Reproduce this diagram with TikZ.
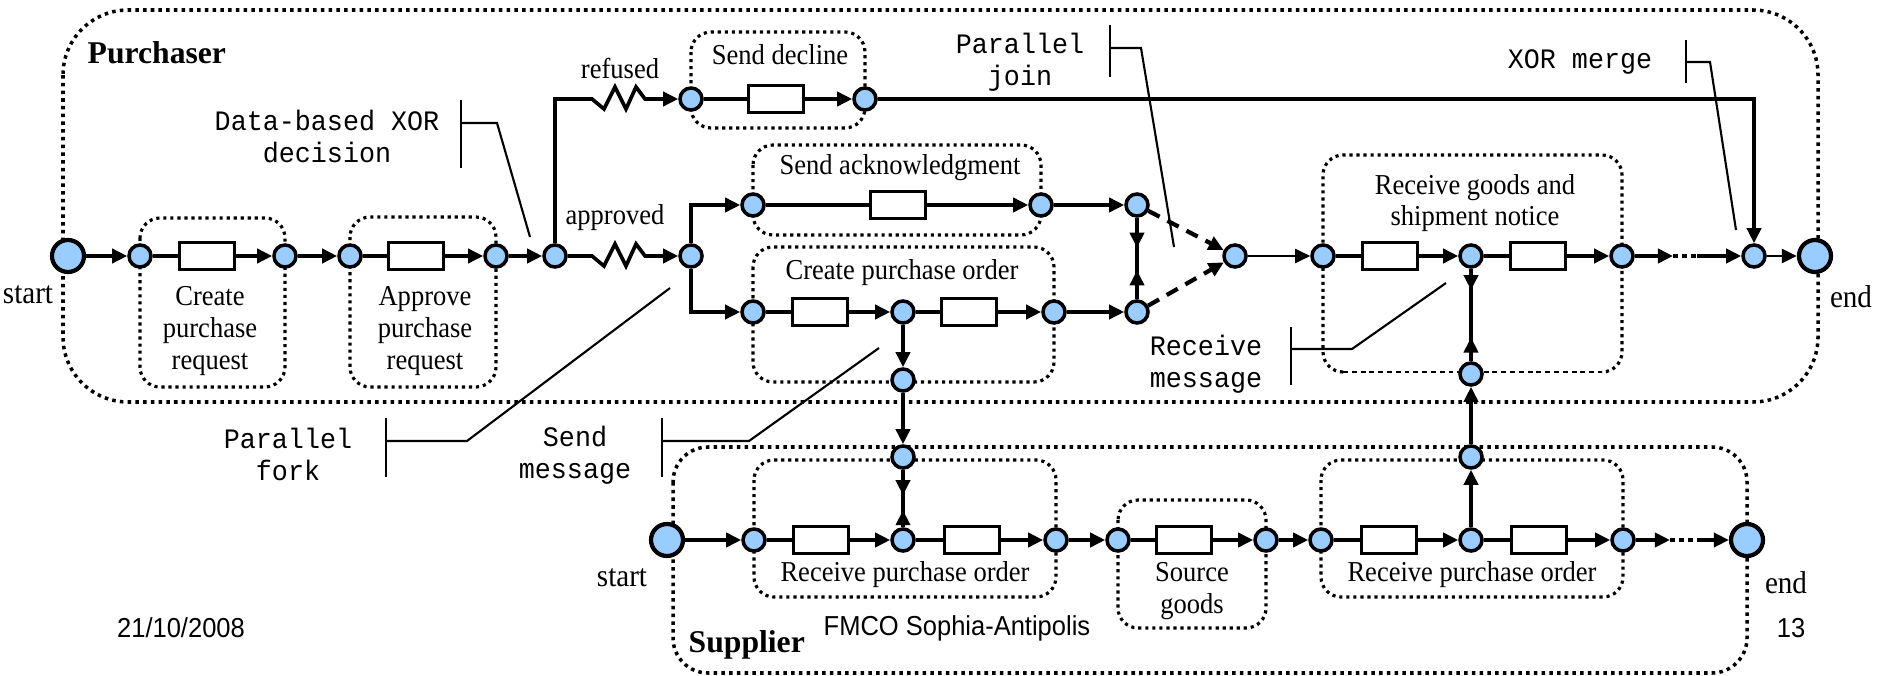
\documentclass[tikz,border=0pt]{standalone}
\usepackage{fontspec}
\setmainfont{Liberation Serif}[FakeStretch=0.92]
\newfontfamily\plainserif{Liberation Serif}
\newfontfamily\monof{Liberation Mono}[FakeStretch=0.95]
\newfontfamily\sansf{Liberation Sans}[FakeStretch=0.93]
\usetikzlibrary{arrows.meta,calc}
\definecolor{nodeblue}{RGB}{153,204,255}
\tikzset{
  flow/.style={line width=1.05pt},
  arr/.style={flow,-{Triangle[length=4.3pt,width=4pt]}},
  gw/.style={circle,draw,line width=1pt,fill=nodeblue,minimum size=0.22cm,inner sep=0pt},
  bigc/.style={circle,draw,line width=1.2pt,fill=nodeblue,minimum size=0.32cm,inner sep=0pt},
  task/.style={draw,line width=1pt,fill=white,minimum width=0.55cm,minimum height=0.27cm,inner sep=0pt},
  pool/.style={line width=1pt,dash pattern=on 1pt off 1.2pt},
  tbox/.style={line width=0.9pt,dash pattern=on 0.9pt off 1.1pt,rounded corners=0.2cm},
  ann/.style={line width=0.6pt},
  dashflow/.style={line width=1.2pt,dash pattern=on 3.6pt off 2.5pt,-{Triangle[length=4.3pt,width=4pt]}},
  lab/.style={font=\fontsize{8.2}{9}\selectfont,align=center,inner sep=0pt},
  biglab/.style={font=\fontsize{9}{10}\selectfont,inner sep=0pt},
  mlab/.style={font=\monof\fontsize{8}{9.1}\selectfont,align=center,inner sep=0pt},
  foot/.style={font=\sansf\fontsize{7.8}{9}\selectfont,inner sep=0pt},
  lanelab/.style={font=\plainserif\bfseries\fontsize{9}{10}\selectfont,inner sep=0pt,anchor=west},
}
\begin{document}
\begin{tikzpicture}[x=0.01cm,y=-0.01cm]
\useasboundingbox (0,0) rectangle (1888,676);
% pools
\draw[pool,rounded corners=0.65cm] (63,10) rectangle (1818,402);
\draw[pool,rounded corners=0.35cm] (673,447) rectangle (1747,673);
% task boxes
\draw[tbox] (140,218) rectangle (285,387);
\draw[tbox] (350,217) rectangle (496,387);
\draw[tbox] (691,32) rectangle (865,128);
\draw[tbox] (753,145) rectangle (1041,235);
\draw[tbox] (753,247) rectangle (1054,382);
\draw[tbox] (1343,372) -- (1323,372) -- (1323,155) -- (1622,155) -- (1622,372) -- (1602,372);
\draw[line width=0.6pt,dash pattern=on 1.4pt off 1.1pt] (1343,372) -- (1602,372);
\draw[tbox] (754,460) rectangle (1056,597);
\draw[tbox] (1118,500) rectangle (1266,628);
\draw[tbox] (1321,460) rectangle (1623,597);
% purchaser nodes
\node[bigc] (s0) at (68,256) {};
\node[gw] (n1) at (140,256) {};
\node[task] (t1) at (207,256) {};
\node[gw] (n2) at (285,256) {};
\node[gw] (n3) at (350,256) {};
\node[task] (t2) at (416,256) {};
\node[gw] (n4) at (496,256) {};
\node[gw] (d) at (555,256) {};
\node[gw] (r1) at (691,99) {};
\node[task] (t3) at (776,99) {};
\node[gw] (r2) at (865,99) {};
\node[gw] (a) at (691,256) {};
\node[gw] (k1) at (753,205) {};
\node[task] (t4) at (898,205) {};
\node[gw] (k2) at (1041,205) {};
\node[gw] (j1) at (1137,205) {};
\node[gw] (o1) at (753,312) {};
\node[task] (t5) at (820,312) {};
\node[gw] (o2) at (903,312) {};
\node[task] (t6) at (969,312) {};
\node[gw] (o3) at (1054,312) {};
\node[gw] (j2) at (1137,312) {};
\node[gw] (g) at (1235,256) {};
\node[gw] (g1) at (1323,256) {};
\node[task] (t7) at (1390,256) {};
\node[gw] (g2) at (1471,256) {};
\node[task] (t8) at (1538,256) {};
\node[gw] (g3) at (1622,256) {};
\node[gw] (m) at (1754,256) {};
\node[bigc] (e0) at (1815,256) {};
\node[gw] (sm) at (903,380) {};
\node[gw] (rm) at (1471,374) {};
% supplier nodes
\node[gw] (st) at (903,457) {};
\node[bigc] (s1) at (667,540) {};
\node[gw] (u1) at (754,540) {};
\node[task] (t9) at (821,540) {};
\node[gw] (u2) at (903,540) {};
\node[task] (t10) at (972,540) {};
\node[gw] (u3) at (1056,540) {};
\node[gw] (v1) at (1118,540) {};
\node[task] (t11) at (1184,540) {};
\node[gw] (v2) at (1266,540) {};
\node[gw] (w1) at (1321,540) {};
\node[task] (t12) at (1389,540) {};
\node[gw] (w2) at (1471,540) {};
\node[task] (t13) at (1539,540) {};
\node[gw] (w3) at (1623,540) {};
\node[gw] (sr) at (1471,457) {};
\node[bigc] (e1) at (1747,540) {};
% helper coordinates
\coordinate (zr) at (592,99);
\coordinate (za) at (592,256);
\coordinate (p1) at (1673,256);
\coordinate (p2) at (1697,256);
\coordinate (q1) at (1670,540);
\coordinate (q2) at (1697,540);
% purchaser flows
\draw[arr] (s0) -- (n1);
\draw[flow] (n1) -- (t1); \draw[arr] (t1) -- (n2);
\draw[arr,line width=1.4pt] (n2) -- (n3);
\draw[flow] (n3) -- (t2); \draw[arr] (t2) -- (n4);
\draw[arr] (n4) -- (d);
\draw[arr] (d) |- (zr) -- ++(12,10) -- ++(11,-22) -- ++(11,22) -- ++(10,-22) -- ++(9,12) -- (r1);
\draw[arr] (d) -- (za) -- ++(12,10) -- ++(11,-22) -- ++(11,22) -- ++(10,-22) -- ++(9,12) -- (a);
\draw[flow] (r1) -- (t3); \draw[arr] (t3) -- (r2);
\draw[arr] (r2) -| (m);
\draw[arr] (a) |- (k1);
\draw[arr] (a) |- (o1);
\draw[flow] (k1) -- (t4); \draw[arr] (t4) -- (k2); \draw[arr] (k2) -- (j1);
\draw[flow] (o1) -- (t5); \draw[arr] (t5) -- (o2);
\draw[flow] (o2) -- (t6); \draw[arr] (t6) -- (o3); \draw[arr] (o3) -- (j2);
\draw[flow] (j1) -- (j2);
\draw[arr] (j1) -- ($(j1)!0.40!(j2)$);
\draw[arr] (j2) -- ($(j2)!0.39!(j1)$);
\draw[dashflow] (j1) -- (g);
\draw[dashflow] (j2) -- (g);
\draw[arr,line width=0.55pt] (g) -- (g1);
\draw[flow] (g1) -- (t7); \draw[arr] (t7) -- (g2);
\draw[flow] (g2) -- (t8); \draw[arr] (t8) -- (g3);
\draw[arr,line width=1.3pt] (g3) -- (p1);
\draw[line width=1.3pt,dash pattern=on 1.3pt off 1.3pt] (p1) -- (p2);
\draw[arr,line width=1.3pt] (p2) -- (m);
\draw[arr,line width=0.8pt] (m) -- (e0);
\draw[flow] (rm) -- (g2);
\draw[arr] (g2) -- ($(g2)!0.29!(rm)$);
\draw[arr] (rm) -- ($(rm)!0.31!(g2)$);
% messages
\draw[arr] (o2) -- (sm);
\draw[arr] (sm) -- (st);
\draw[flow] (st) -- (u2);
\draw[arr] (st) -- ($(st)!0.46!(u2)$);
\draw[arr] (u2) -- ($(u2)!0.36!(st)$);
\draw[arr] (w2) -- (sr);
\draw[arr] (sr) -- (rm);
% supplier flows
\draw[arr,line width=1.4pt] (s1) -- (u1);
\draw[flow] (u1) -- (t9); \draw[arr] (t9) -- (u2);
\draw[flow] (u2) -- (t10); \draw[arr] (t10) -- (u3);
\draw[arr] (u3) -- (v1);
\draw[flow] (v1) -- (t11); \draw[arr] (t11) -- (v2);
\draw[arr] (v2) -- (w1);
\draw[flow] (w1) -- (t12); \draw[arr] (t12) -- (w2);
\draw[flow] (w2) -- (t13); \draw[arr] (t13) -- (w3);
\draw[arr,line width=1.3pt] (w3) -- (q1);
\draw[line width=1.3pt,dash pattern=on 1.3pt off 1.3pt] (q1) -- (q2);
\draw[arr,line width=1.3pt] (q2) -- (e1);
% labels
\node[lab] (l1) at (210,331) {Create\\purchase\\request};
\node[lab] (l2) at (425,331) {Approve\\purchase\\request};
\node[lab] (l3) at (780,55) {Send decline};
\node[lab] (l4) at (900,168) {Send acknowledgment};
\node[lab] (l5) at (902,273) {Create purchase order};
\node[lab] (l6) at (1475,203) {Receive goods and\\shipment notice};
\node[lab] (l7) at (905,575) {Receive purchase order};
\node[lab] (l8) at (1192,591) {Source\\goods};
\node[lab] (l9) at (1472,575) {Receive purchase order};
\node[lab] (lr) at (620,68) {refused};
\node[lab] (la) at (615,218) {approved};
\node[biglab] (ls0) at (28,295) {start};
\node[biglab] (le0) at (1851,297) {end};
\node[biglab] (ls1) at (622,578) {start};
\node[biglab] (le1) at (1786,583) {end};
\node[lanelab] (pl) at (87,53) {Purchaser};
\node[lanelab] (sl) at (688,645) {Supplier};
\node[foot] (f1) at (181,628) {21/10/2008};
\node[foot,anchor=west] (f2) at (823,628) {FMCO Sophia-Antipolis};
\node[foot] (f3) at (1791,628) {13};
% annotations
\node[mlab] (a1) at (327,136) {Data-based XOR\\decision};
\draw[ann] (461,100) -- (461,168);
\draw[ann] (461,123) -- (497,123) -- (530,237);
\node[mlab] (a2) at (1020,62) {Parallel\\join};
\draw[ann] (1110,25) -- (1110,77);
\draw[ann] (1110,48) -- (1141,48) -- (1174,247);
\node[mlab] (a3) at (1580,62) {XOR merge};
\draw[ann] (1686,40) -- (1686,83);
\draw[ann] (1686,62) -- (1710,62) -- (1736,230);
\node[mlab] (a4) at (1206,364) {Receive\\message};
\draw[ann] (1291,327) -- (1291,385);
\draw[ann] (1291,349) -- (1352,349) -- (1446,283);
\node[mlab] (a5) at (288,454) {Parallel\\fork};
\draw[ann] (386,418) -- (386,477);
\draw[ann] (386,441) -- (467,441) -- (670,288);
\node[mlab] (a6) at (575,455) {Send\\message};
\draw[ann] (662,418) -- (662,477);
\draw[ann] (662,441) -- (749,441) -- (879,348);
\end{tikzpicture}
\end{document}
